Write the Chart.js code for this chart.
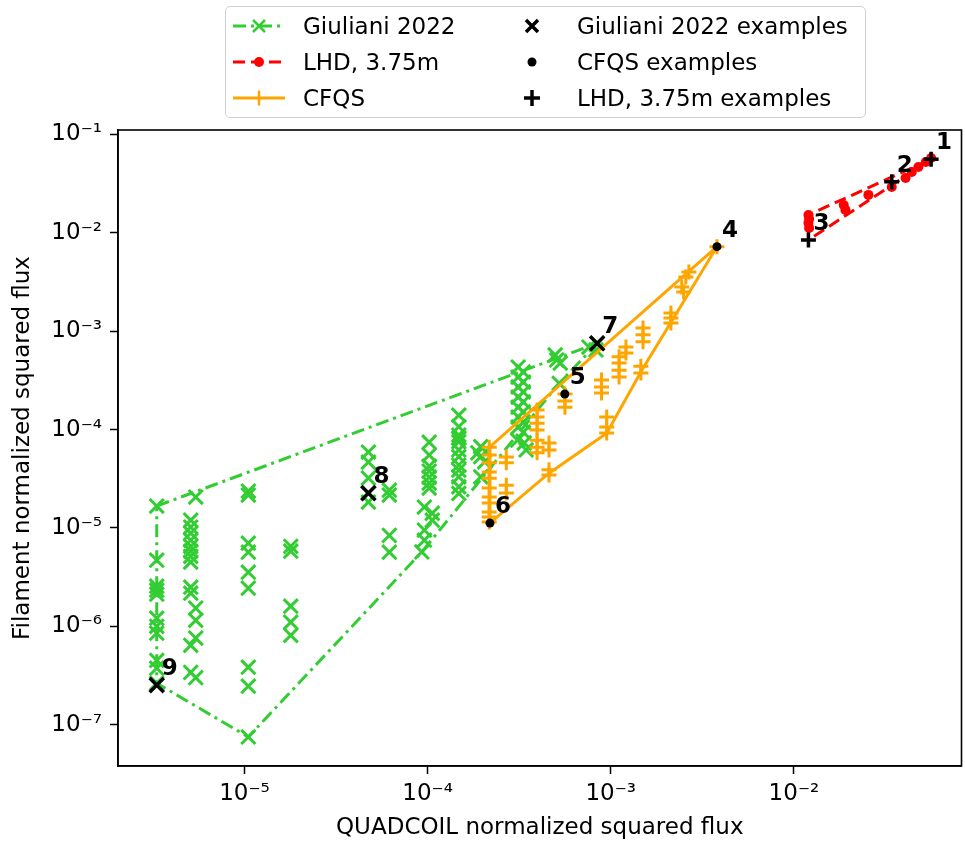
<!DOCTYPE html>
<html>
<head>
<meta charset="utf-8">
<script src="https://cdn.jsdelivr.net/npm/chart.js@4.4.1/dist/chart.umd.min.js"></script>
<style>
  html, body { margin: 0; padding: 0; overflow: hidden; background: #fff; font-family: 'DejaVu Sans', sans-serif; }
  #wrap { position: relative; width: 965px; height: 846px; overflow: hidden; }
  #fluxChart { display: block; position: absolute; left: 0; top: 0; }
  #legend {
    position: absolute; left: 225px; top: 6px; width: 639px; height: 110px;
    border: 1.5px solid #d0d0d0; border-radius: 5px; background: rgba(255,255,255,0.85);
    font-size: 23px; color: #000;
  }
  #legend .item { position: absolute; white-space: nowrap; line-height: 28px; }
  #legend svg { position: absolute; }
</style>
</head>
<body>
<div id="wrap">
  <!-- 画布略宽：Chart.js 会给点标记在右侧留 ~12px 余量 -->
  <canvas id="fluxChart" width="975" height="846"></canvas>
  <div id="legend"></div>
</div>
<script>
// 坐标轴刻度
const xTicks = [1e-5, 1e-4, 1e-3, 1e-2];
const xTickLabels = ['10⁻⁵', '10⁻⁴', '10⁻³', '10⁻²'];
const yTicks = [1e-7, 1e-6, 1e-5, 1e-4, 1e-3, 1e-2, 1e-1];
const yTickLabels = ['10⁻⁷', '10⁻⁶', '10⁻⁵', '10⁻⁴', '10⁻³', '10⁻²', '10⁻¹'];

// Giuliani 2022 点
const giulianiX = [
  3.32e-6, 3.32e-6, 3.32e-6, 3.32e-6, 3.32e-6, 3.32e-6, 3.32e-6, 3.32e-6, 3.32e-6, 3.32e-6, 3.32e-6,
  5.09e-6, 5.09e-6, 5.09e-6, 5.09e-6, 5.09e-6, 5.09e-6, 5.09e-6, 5.09e-6, 5.09e-6, 5.09e-6, 5.09e-6, 5.09e-6,
  5.42e-6, 5.42e-6, 5.42e-6, 5.42e-6, 5.42e-6,
  1.05e-5, 1.05e-5, 1.05e-5, 1.05e-5, 1.05e-5, 1.05e-5, 1.05e-5, 1.05e-5, 1.05e-5,
  1.79e-5, 1.79e-5, 1.79e-5, 1.79e-5, 1.79e-5,
  4.75e-5, 4.75e-5, 4.75e-5, 4.75e-5, 4.75e-5,
  6.18e-5, 6.18e-5, 6.18e-5, 6.18e-5,
  1.02e-4, 1.02e-4, 1.02e-4, 1.02e-4, 1.02e-4, 1.02e-4, 1.02e-4,
  9.6e-5, 9.6e-5, 9.6e-5, 9.3e-5, 1.06e-4, 1.06e-4,
  1.48e-4, 1.48e-4, 1.48e-4, 1.48e-4, 1.48e-4, 1.48e-4, 1.48e-4, 1.48e-4, 1.48e-4, 1.48e-4, 1.48e-4, 1.48e-4,
  1.95e-4, 1.95e-4, 1.95e-4, 1.88e-4, 2.05e-4,
  3.12e-4, 3.33e-4, 3.12e-4, 3.33e-4, 3.12e-4, 3.33e-4, 3.12e-4, 3.33e-4, 3.12e-4,
  3.33e-4, 3.12e-4, 3.33e-4, 3.12e-4, 3.33e-4, 3.37e-4, 3.45e-4, 3.1e-4,
  4.97e-4, 5.07e-4, 5.3e-4, 5.23e-4, 7.6e-4, 8.3e-4, 8.43e-4
];
const giulianiY = [
  1.67e-5, 4.7e-6, 2.56e-6, 2.33e-6, 2.12e-6, 1.21e-6, 1.0e-6, 8.5e-7, 4.5e-7, 3.75e-7, 2.64e-7,
  1.2e-5, 1.02e-5, 8.85e-6, 7.5e-6, 6.5e-6, 5.8e-6, 5.15e-6, 4.5e-6, 2.5e-6, 2.17e-6, 6.4e-7, 3.4e-7,
  2.06e-5, 1.53e-6, 1.15e-6, 7.6e-7, 3.0e-7,
  2.37e-5, 2.16e-5, 7.0e-6, 5.67e-6, 3.55e-6, 2.44e-6, 3.84e-7, 2.46e-7, 7.5e-8,
  6.5e-6, 5.8e-6, 1.6e-6, 1.1e-6, 8.1e-7,
  5.9e-5, 4.67e-5, 3.21e-5, 2.26e-5, 1.83e-5,
  2.42e-5, 2.16e-5, 8.4e-6, 5.67e-6,
  7.45e-5, 5.5e-5, 4.25e-5, 3.78e-5, 3.28e-5, 2.86e-5, 2.54e-5,
  1.63e-5, 9.5e-6, 7.5e-6, 5.7e-6, 1.41e-5, 1.2e-5,
  1.40e-4, 1.07e-4, 8.8e-5, 8.2e-5, 7.5e-5, 6.2e-5, 5.3e-5, 4.35e-5, 3.87e-5, 3.31e-5, 2.62e-5, 2.24e-5,
  6.7e-5, 5.3e-5, 3.31e-5, 5.8e-5, 4.7e-5,
  4.32e-4, 3.85e-4, 3.42e-4, 3.04e-4, 2.71e-4, 2.41e-4, 2.14e-4, 1.91e-4, 1.69e-4,
  1.51e-4, 1.34e-4, 1.19e-4, 1.06e-4, 9.4e-5, 7.3e-5, 6.2e-5, 7.8e-5,
  5.73e-4, 5.1e-4, 4.75e-4, 2.95e-4, 6.9e-4, 6.44e-4, 7.53e-4
];
const giulianiHullX = [3.32e-6, 8.43e-4, 5.23e-4, 9.3e-5, 1.05e-5, 3.32e-6, 3.32e-6];
const giulianiHullY = [1.67e-5, 7.53e-4, 2.95e-4, 5.7e-6, 7.5e-8, 2.64e-7, 1.67e-5];

// CFQS 点
const cfqsX = [
  2.17e-4, 2.17e-4, 2.17e-4, 2.17e-4, 2.17e-4, 2.17e-4, 2.17e-4, 2.17e-4, 2.17e-4, 2.17e-4, 2.17e-4,
  2.69e-4, 2.69e-4, 2.69e-4, 2.69e-4,
  3.96e-4, 3.96e-4, 3.96e-4, 3.96e-4, 3.96e-4, 3.96e-4, 3.96e-4,
  4.6e-4, 4.6e-4, 4.6e-4, 4.6e-4,
  5.62e-4, 5.62e-4, 5.62e-4,
  8.9e-4, 8.9e-4, 8.9e-4,
  9.5e-4, 9.5e-4, 9.5e-4,
  1.11e-3, 1.11e-3, 1.11e-3, 1.11e-3,
  1.21e-3, 1.21e-3,
  1.46e-3, 1.46e-3, 1.5e-3, 1.5e-3, 1.5e-3,
  2.13e-3, 2.13e-3, 2.13e-3,
  2.67e-3, 2.57e-3, 2.44e-3, 2.5e-3,
  3.8e-3
];
const cfqsY = [
  6.6e-5, 5.5e-5, 4.6e-5, 3.7e-5, 3.2e-5, 2.54e-5, 2.06e-5, 1.79e-5, 1.45e-5, 1.29e-5, 1.15e-5,
  5.25e-5, 4.6e-5, 2.72e-5, 2.26e-5,
  1.58e-4, 1.34e-4, 1.16e-4, 9.9e-5, 7.8e-5, 6.6e-5, 5.8e-5,
  7.3e-5, 6.2e-5, 3.9e-5, 3.45e-5,
  2.3e-4, 1.95e-4, 1.69e-4,
  3.19e-4, 2.71e-4, 2.35e-4,
  1.34e-4, 1.06e-4, 9.2e-5,
  5.5e-4, 4.75e-4, 4.0e-4, 3.42e-4,
  6.9e-4, 6.0e-4,
  4.4e-4, 3.76e-4, 1.08e-3, 9.2e-4, 7.8e-4,
  1.53e-3, 1.36e-3, 1.21e-3,
  3.99e-3, 3.55e-3, 2.81e-3, 2.5e-3,
  7.23e-3
];
const cfqsHullX = [3.8e-3, 2.17e-4, 2.19e-4, 4.6e-4, 9.5e-4, 1.48e-3, 3.8e-3];
const cfqsHullY = [7.23e-3, 6.6e-5, 1.12e-5, 3.6e-5, 9.2e-5, 4.03e-4, 7.23e-3];

// LHD, 3.75m 点
const lhdX = [0.012, 0.0121, 0.012, 0.0121, 0.0187, 0.0191, 0.0255, 0.0342, 0.0407, 0.044, 0.0478, 0.0525, 0.0561];
const lhdY = [0.0152, 0.01384, 0.01259, 0.0112, 0.0192, 0.0171, 0.0243, 0.0292, 0.0361, 0.0416, 0.0467, 0.0525, 0.0577];
const lhdHullX = [0.012, 0.012, 0.0561, 0.012];
const lhdHullY = [8.45e-3, 0.0152, 0.056, 8.45e-3];

// 示例点
const giulianiExX = [8.43e-4, 4.75e-5, 3.32e-6];
const giulianiExY = [7.53e-4, 2.26e-5, 2.52e-7];
const giulianiExLabels = ['7', '8', '9'];
const cfqsExX = [3.8e-3, 5.61e-4, 2.19e-4];
const cfqsExY = [7.23e-3, 2.3e-4, 1.12e-5];
const cfqsExLabels = ['4', '5', '6'];
const lhdExX = [0.0561, 0.0342, 0.012];
const lhdExY = [0.056, 0.0331, 8.45e-3];
const lhdExLabels = ['1', '2', '3'];

const GREEN = '#32cd32', RED = '#ff0000', ORANGE = '#ffa500';
const FONT = 'DejaVu Sans';

function pts(xs, ys) { return xs.map((x, i) => ({ x: x, y: ys[i] })); }

// 边框和编号
const framePlugin = {
  id: 'frame',
  afterDatasetsDraw(chart) {
    const { ctx, chartArea: a } = chart;
    ctx.save();
    ctx.strokeStyle = '#000';
    ctx.lineWidth = 1.6;
    ctx.strokeRect(a.left, a.top, a.right - a.left, a.bottom - a.top);
    ctx.font = 'bold 23px "' + FONT + '"';
    ctx.fillStyle = '#000';
    ctx.textAlign = 'left';
    ctx.textBaseline = 'alphabetic';
    chart.data.datasets.forEach((ds, di) => {
      if (!ds.numberLabels) return;
      chart.getDatasetMeta(di).data.forEach((p, i) => {
        ctx.fillText(ds.numberLabels[i], p.x + 5, p.y - 10);
      });
    });
    ctx.restore();
  }
};

document.addEventListener('DOMContentLoaded', function() {
  const ctx = document.getElementById('fluxChart').getContext('2d');
  new Chart(ctx, {
    type: 'scatter',
    data: {
      datasets: [
        {
          label: 'Giuliani 2022 examples',
          data: pts(giulianiExX, giulianiExY),
          numberLabels: giulianiExLabels,
          pointStyle: 'crossRot', pointRadius: 10, pointBorderWidth: 3.5,
          borderColor: '#000', backgroundColor: '#000'
        },
        {
          label: 'CFQS examples',
          data: pts(cfqsExX, cfqsExY),
          numberLabels: cfqsExLabels,
          pointStyle: 'circle', pointRadius: 4.5, pointBorderWidth: 0,
          borderColor: '#000', backgroundColor: '#000'
        },
        {
          label: 'LHD, 3.75m examples',
          data: pts(lhdExX, lhdExY),
          numberLabels: lhdExLabels,
          pointStyle: 'cross', pointRadius: 7.5, pointBorderWidth: 3.5,
          borderColor: '#000', backgroundColor: '#000'
        },
        {
          label: 'CFQS',
          data: pts(cfqsX, cfqsY),
          pointStyle: 'cross', pointRadius: 7.5, pointBorderWidth: 3,
          borderColor: ORANGE, backgroundColor: ORANGE
        },
        {
          label: 'CFQS hull',
          data: pts(cfqsHullX, cfqsHullY),
          showLine: true, pointRadius: 0, borderWidth: 3,
          borderColor: ORANGE
        },
        {
          label: 'LHD, 3.75m',
          data: pts(lhdX, lhdY),
          pointStyle: 'circle', pointRadius: 5, pointBorderWidth: 0,
          borderColor: RED, backgroundColor: RED
        },
        {
          label: 'LHD hull',
          data: pts(lhdHullX, lhdHullY),
          showLine: true, pointRadius: 0, borderWidth: 3, borderDash: [12, 6],
          borderColor: RED
        },
        {
          label: 'Giuliani 2022',
          data: pts(giulianiX, giulianiY),
          pointStyle: 'crossRot', pointRadius: 10, pointBorderWidth: 3,
          borderColor: GREEN, backgroundColor: GREEN
        },
        {
          label: 'Giuliani hull',
          data: pts(giulianiHullX, giulianiHullY),
          showLine: true, pointRadius: 0, borderWidth: 3, borderDash: [13, 5, 3, 5],
          borderColor: GREEN
        }
      ]
    },
    options: {
      responsive: false,
      animation: false,
      layout: { padding: { top: 130, right: 0, left: 0, bottom: 0 } },
      plugins: {
        legend: { display: false },
        tooltip: { enabled: false }
      },
      scales: {
        x: {
          type: 'logarithmic',
          min: 2.04e-6,
          max: 0.0822,
          afterBuildTicks: function(axis) { axis.ticks = xTicks.map(v => ({ value: v })); },
          afterFit: function(scale) { scale.height = 80; scale.paddingLeft = 0; scale.paddingRight = 0; },
          ticks: {
            autoSkip: false, maxRotation: 0, padding: 6, color: '#000',
            font: { family: FONT, size: 23 },
            callback: function(v, i) { return xTickLabels[i]; }
          },
          grid: { drawOnChartArea: false, drawTicks: true, tickLength: 8, tickWidth: 1.5, tickColor: '#000' },
          border: { display: true, color: '#000', width: 1.6 },
          title: {
            display: true, text: 'QUADCOIL normalized squared flux', color: '#000',
            font: { family: FONT, size: 23 }, padding: { top: 0, bottom: 4 }
          }
        },
        y: {
          type: 'logarithmic',
          min: 3.8e-8,
          max: 0.111,
          afterBuildTicks: function(axis) { axis.ticks = yTicks.map(v => ({ value: v })); },
          afterFit: function(scale) { scale.width = 118; scale.paddingTop = 0; scale.paddingBottom = 0; },
          ticks: {
            autoSkip: false, padding: 8, color: '#000',
            font: { family: FONT, size: 23 },
            callback: function(v, i) { return yTickLabels[i]; }
          },
          grid: { drawOnChartArea: false, drawTicks: true, tickLength: 8, tickWidth: 1.5, tickColor: '#000' },
          border: { display: true, color: '#000', width: 1.6 },
          title: {
            display: true, text: 'Filament normalized squared flux', color: '#000',
            font: { family: FONT, size: 23 }, padding: { top: 9, bottom: 0 }
          }
        }
      }
    },
    plugins: [framePlugin]
  });

  // 图例（两列）
  const legendRows = [
    { text: 'Giuliani 2022', icon: '<line x1="0" y1="12" x2="52" y2="12" stroke="' + GREEN + '" stroke-width="3" stroke-dasharray="13 5 3 5"/><path d="M20 6L32 18M32 6L20 18" stroke="' + GREEN + '" stroke-width="2.5"/>',
      text2: 'Giuliani 2022 examples', icon2: '<path d="M3 5L15 17M15 5L3 17" stroke="#000" stroke-width="3.5"/>' },
    { text: 'LHD, 3.75m', icon: '<line x1="0" y1="12" x2="52" y2="12" stroke="' + RED + '" stroke-width="3" stroke-dasharray="12 6"/><circle cx="26" cy="12" r="5" fill="' + RED + '"/>',
      text2: 'CFQS examples', icon2: '<circle cx="9" cy="11" r="4.5" fill="#000"/>' },
    { text: 'CFQS', icon: '<line x1="0" y1="12" x2="52" y2="12" stroke="' + ORANGE + '" stroke-width="3"/><path d="M26 4.5V19.5" stroke="' + ORANGE + '" stroke-width="2.5"/>',
      text2: 'LHD, 3.75m examples', icon2: '<path d="M9 3V19M1 11H17" stroke="#000" stroke-width="3.5"/>' }
  ];
  const legend = document.getElementById('legend');
  legendRows.forEach((r, i) => {
    const cy = 19 + i * 36;
    legend.insertAdjacentHTML('beforeend',
      '<svg width="52" height="24" style="left:7px;top:' + (cy - 12) + 'px">' + r.icon + '</svg>' +
      '<span class="item" style="left:77px;top:' + (cy - 14) + 'px">' + r.text + '</span>' +
      '<svg width="18" height="22" style="left:297px;top:' + (cy - 11) + 'px">' + r.icon2 + '</svg>' +
      '<span class="item" style="left:351px;top:' + (cy - 14) + 'px">' + r.text2 + '</span>');
  });
});
</script>
</body>
</html>
